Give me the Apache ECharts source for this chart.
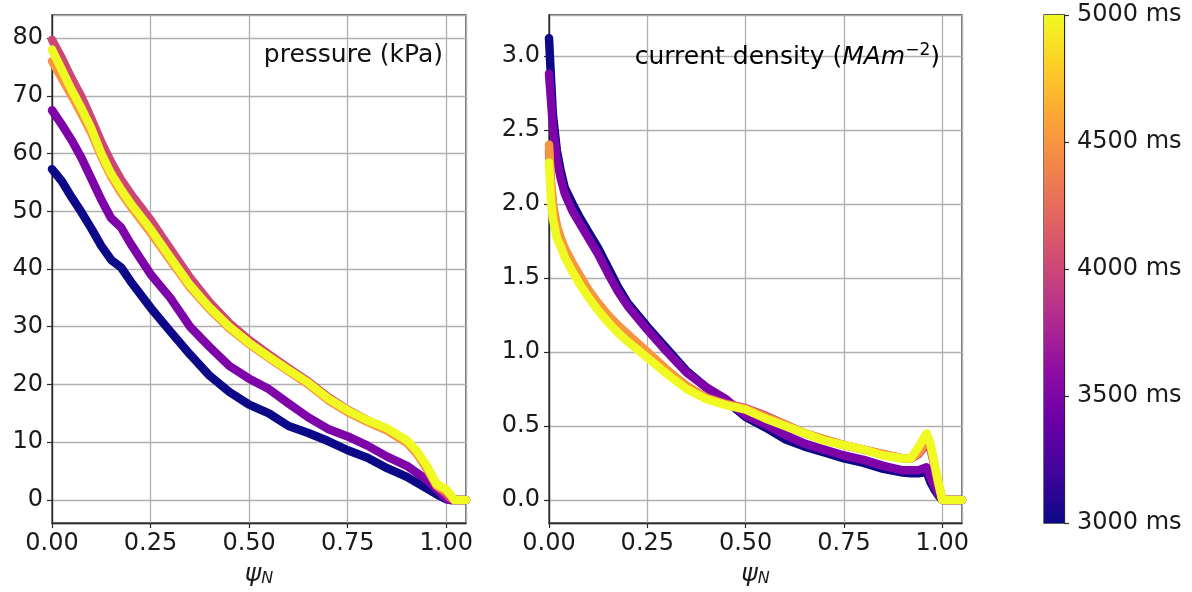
<!DOCTYPE html>
<html><head><meta charset="utf-8">
<script src="https://cdn.jsdelivr.net/npm/echarts@6/dist/echarts.min.js"></script>
<style>html,body{margin:0;padding:0;background:#fff}#c{width:1192px;height:592px}</style>
</head><body><div id="c"></div>
<script>
// ---- data ----
const timesMs = [3000, 3500, 4000, 4500, 5000];
const lineColors = ['#0d0887', '#7e03a8', '#cc4778', '#f89540', '#f0f921'];

// pressure panel (kPa) vs psi_N
const psiP = [0, 0.025, 0.05, 0.075, 0.1, 0.125, 0.15, 0.175, 0.2, 0.25, 0.3, 0.35, 0.4, 0.45, 0.5, 0.55, 0.6, 0.65, 0.7, 0.75, 0.8, 0.85, 0.9, 0.925, 0.95, 0.975, 1.0, 1.01, 1.02, 1.05];
const pressure3000 = [57.3, 55.2, 52.4, 49.8, 47.0, 44.0, 41.6, 40.3, 37.8, 33.3, 29.2, 25.2, 21.5, 18.7, 16.5, 15.0, 12.8, 11.6, 10.2, 8.6, 7.3, 5.5, 4.0, 3.0, 2.0, 1.0, 0.1, 0, 0, 0];
const pressure3500 = [67.5, 65.0, 62.3, 59.2, 55.6, 52.0, 48.8, 47.2, 44.3, 39.1, 35.0, 30.0, 26.5, 23.2, 21.0, 19.2, 16.7, 14.3, 12.3, 11.0, 9.4, 7.5, 5.9, 4.7, 3.5, 1.9, 0.2, 0, 0, 0];
const pressure4000 = [79.7, 76.5, 73.0, 69.8, 66.0, 62.0, 58.5, 55.5, 53.0, 48.5, 43.5, 38.5, 34.2, 30.6, 27.7, 25.2, 22.8, 20.5, 17.8, 15.6, 13.8, 12.2, 10.0, 8.2, 5.5, 2.5, 1.0, 0.3, 0, 0];
const pressure4500 = [76.0, 73.0, 70.0, 66.8, 63.5, 59.5, 56.0, 53.2, 50.8, 46.3, 41.5, 36.8, 33.0, 29.7, 27.0, 24.6, 22.3, 20.0, 17.3, 15.2, 13.5, 12.0, 9.9, 8.0, 5.5, 2.5, 1.5, 0.8, 0, 0];
const pressure5000 = [78.0, 74.5, 71.0, 67.8, 64.3, 60.0, 56.5, 53.8, 51.3, 46.9, 42.0, 37.2, 33.3, 30.0, 27.2, 24.8, 22.5, 20.3, 17.6, 15.5, 13.8, 12.4, 10.3, 8.5, 6.0, 2.8, 1.8, 1.0, 0, 0];

// current density panel (MA m^-2) vs psi_N
const psiJ = [0, 0.005, 0.01, 0.02, 0.03, 0.04, 0.06, 0.08, 0.1, 0.125, 0.15, 0.175, 0.2, 0.25, 0.3, 0.35, 0.4, 0.45, 0.5, 0.55, 0.6, 0.65, 0.7, 0.75, 0.8, 0.85, 0.9, 0.92, 0.94, 0.96, 0.97, 0.98, 0.99, 1.0, 1.01, 1.05];
const current3000 = [3.12, 2.85, 2.60, 2.36, 2.22, 2.11, 2.00, 1.90, 1.81, 1.70, 1.57, 1.44, 1.33, 1.17, 1.02, 0.87, 0.76, 0.67, 0.56, 0.49, 0.41, 0.36, 0.32, 0.28, 0.25, 0.21, 0.185, 0.18, 0.18, 0.19, 0.12, 0.07, 0.03, 0, 0, 0];
const current3500 = [2.88, 2.70, 2.52, 2.30, 2.17, 2.07, 1.95, 1.86, 1.77, 1.66, 1.53, 1.41, 1.31, 1.15, 1.00, 0.86, 0.76, 0.68, 0.57, 0.51, 0.44, 0.38, 0.34, 0.30, 0.27, 0.23, 0.20, 0.20, 0.20, 0.22, 0.15, 0.09, 0.04, 0, 0, 0];
const current4000 = [2.36, 2.13, 1.98, 1.84, 1.76, 1.69, 1.59, 1.50, 1.41, 1.32, 1.24, 1.17, 1.11, 0.99, 0.87, 0.77, 0.69, 0.65, 0.62, 0.57, 0.51, 0.45, 0.41, 0.37, 0.34, 0.31, 0.28, 0.28, 0.31, 0.38, 0.34, 0.23, 0.10, 0, 0, 0];
const current4500 = [2.40, 2.15, 2.00, 1.85, 1.77, 1.70, 1.60, 1.51, 1.42, 1.33, 1.25, 1.18, 1.12, 1.00, 0.88, 0.77, 0.69, 0.645, 0.615, 0.56, 0.51, 0.45, 0.41, 0.37, 0.34, 0.31, 0.28, 0.28, 0.32, 0.40, 0.36, 0.24, 0.11, 0, 0, 0];
const current5000 = [2.28, 2.02, 1.90, 1.77, 1.71, 1.64, 1.54, 1.45, 1.37, 1.28, 1.20, 1.13, 1.07, 0.96, 0.85, 0.75, 0.68, 0.64, 0.61, 0.55, 0.50, 0.45, 0.40, 0.37, 0.34, 0.30, 0.28, 0.28, 0.36, 0.45, 0.38, 0.25, 0.12, 0, 0, 0];

const colorbarTicks = [3000, 3500, 4000, 4500, 5000];
const plasmaStops = ['#0d0887', '#41049d', '#6a00a8', '#8f0da4', '#b12a90', '#cc4778', '#e16462', '#f2844b', '#fca636', '#fcce25', '#f0f921'];

const pressureSets = [pressure3000, pressure3500, pressure4000, pressure4500, pressure5000];
const currentSets = [current3000, current3500, current4000, current4500, current5000];

// ---- chart ----
const FF = "'DejaVu Sans', sans-serif";
const AX = '#2a2a2a';
const GRIDC = '#b0b0b0';
const chart = echarts.init(document.getElementById('c'), null, {renderer: 'canvas'});

function xAxisFor(gi) {
  return {
    type: 'value', gridIndex: gi, min: 0, max: 1.05, interval: 0.25,
    axisLine: {show: true, onZero: false, lineStyle: {color: AX, width: 1.3}},
    axisTick: {show: true, length: 5, lineStyle: {color: AX, width: 1.2}},
    axisLabel: {fontSize: 24, fontFamily: FF, color: '#1a1a1a', margin: 9,
      showMaxLabel: false, formatter: v => v.toFixed(2)},
    splitLine: {show: true, lineStyle: {color: GRIDC, width: 1.3}},
    name: '{i|ψ}{s|N}', nameLocation: 'middle', nameGap: 36,
    nameTextStyle: {rich: {
      i: {fontSize: 25, fontFamily: FF, fontStyle: 'italic', color: '#1a1a1a', lineHeight: 28, verticalAlign: 'bottom'},
      s: {fontSize: 16, fontFamily: FF, fontStyle: 'italic', color: '#1a1a1a', lineHeight: 16, verticalAlign: 'bottom'}
    }}
  };
}
function yAxisFor(gi, mn, mx, sn, dec) {
  return {
    type: 'value', gridIndex: gi, min: mn, max: mx, splitNumber: sn,
    axisLine: {show: true, onZero: false, lineStyle: {color: AX, width: 1.3}},
    axisTick: {show: true, length: 5, lineStyle: {color: AX, width: 1.2}},
    axisLabel: {fontSize: 24, fontFamily: FF, color: '#1a1a1a', margin: 9,
      showMinLabel: false, showMaxLabel: false, formatter: v => v.toFixed(dec)},
    splitLine: {show: true, lineStyle: {color: GRIDC, width: 1.3}}
  };
}

const series = [];
timesMs.forEach((t, k) => {
  series.push({
    name: 'p' + t, type: 'line', xAxisIndex: 0, yAxisIndex: 0,
    data: psiP.map((x, i) => [x, pressureSets[k][i]]),
    showSymbol: false, symbol: 'none', smooth: false, silent: true,
    lineStyle: {color: lineColors[k], width: 8.5, cap: 'round', join: 'round'}
  });
});
timesMs.forEach((t, k) => {
  series.push({
    name: 'j' + t, type: 'line', xAxisIndex: 1, yAxisIndex: 1,
    data: psiJ.map((x, i) => [x, currentSets[k][i]]),
    showSymbol: false, symbol: 'none', smooth: false, silent: true,
    lineStyle: {color: lineColors[k], width: 8.5, cap: 'round', join: 'round'}
  });
});
// colorbar
const cbMin = colorbarTicks[0], cbMax = colorbarTicks[colorbarTicks.length - 1];
series.push({type: 'bar', xAxisIndex: 2, yAxisIndex: 2, stack: 'cb', data: [cbMin],
  barWidth: '100%', itemStyle: {color: 'rgba(0,0,0,0)'}, silent: true});
series.push({type: 'bar', xAxisIndex: 2, yAxisIndex: 2, stack: 'cb', data: [cbMax - cbMin],
  barWidth: '100%', silent: true,
  itemStyle: {color: new echarts.graphic.LinearGradient(0, 1, 0, 0,
    plasmaStops.map((c, i) => ({offset: i / (plasmaStops.length - 1), color: c})))}});

chart.setOption({
  animation: false,
  backgroundColor: '#fff',
  grid: [
    {left: 52, top: 15, width: 414, height: 508, show: true, borderColor: AX, borderWidth: 1.3, backgroundColor: 'rgba(0,0,0,0)'},
    {left: 549, top: 15, width: 413, height: 508, show: true, borderColor: AX, borderWidth: 1.3, backgroundColor: 'rgba(0,0,0,0)'},
    {left: 1044, top: 15, width: 20, height: 508, show: true, borderColor: AX, borderWidth: 1.3, backgroundColor: 'rgba(0,0,0,0)'}
  ],
  xAxis: [xAxisFor(0), xAxisFor(1),
    {type: 'category', gridIndex: 2, data: ['cb'], show: false, boundaryGap: true}],
  yAxis: [yAxisFor(0, -4, 84, 9, 0), yAxisFor(1, -0.156, 3.276, 7, 1),
    {type: 'value', gridIndex: 2, position: 'right', min: cbMin, max: cbMax, interval: 500,
     axisLine: {show: true, onZero: false, lineStyle: {color: AX, width: 1.3}},
     axisTick: {show: true, length: 5, lineStyle: {color: AX, width: 1.2}},
     axisLabel: {fontSize: 24, fontFamily: FF, color: '#1a1a1a', margin: 13, formatter: v => v + ' ms'},
     splitLine: {show: false}}],
  series: series,
  graphic: [
    {type: 'text', x: 443, y: 55, z: 100, style: {text: 'pressure (kPa)', font: '25px ' + FF, fill: '#111', textAlign: 'right', textVerticalAlign: 'middle'}},
    {type: 'text', x: 940, y: 57, z: 100, style: {
      text: '{n|current density (}{i|MAm}{s|−2}{n|)}',
      textAlign: 'right', textVerticalAlign: 'middle',
      rich: {
        n: {fontSize: 25, fontFamily: FF, color: '#111', lineHeight: 26, verticalAlign: 'bottom'},
        i: {fontSize: 25, fontFamily: FF, fontStyle: 'italic', color: '#111', lineHeight: 26, verticalAlign: 'bottom'},
        s: {fontSize: 17, fontFamily: FF, color: '#111', lineHeight: 17, verticalAlign: 'bottom', padding: [0, 0, 11, 0]}
      }}}
  ]
});
</script></body></html>
